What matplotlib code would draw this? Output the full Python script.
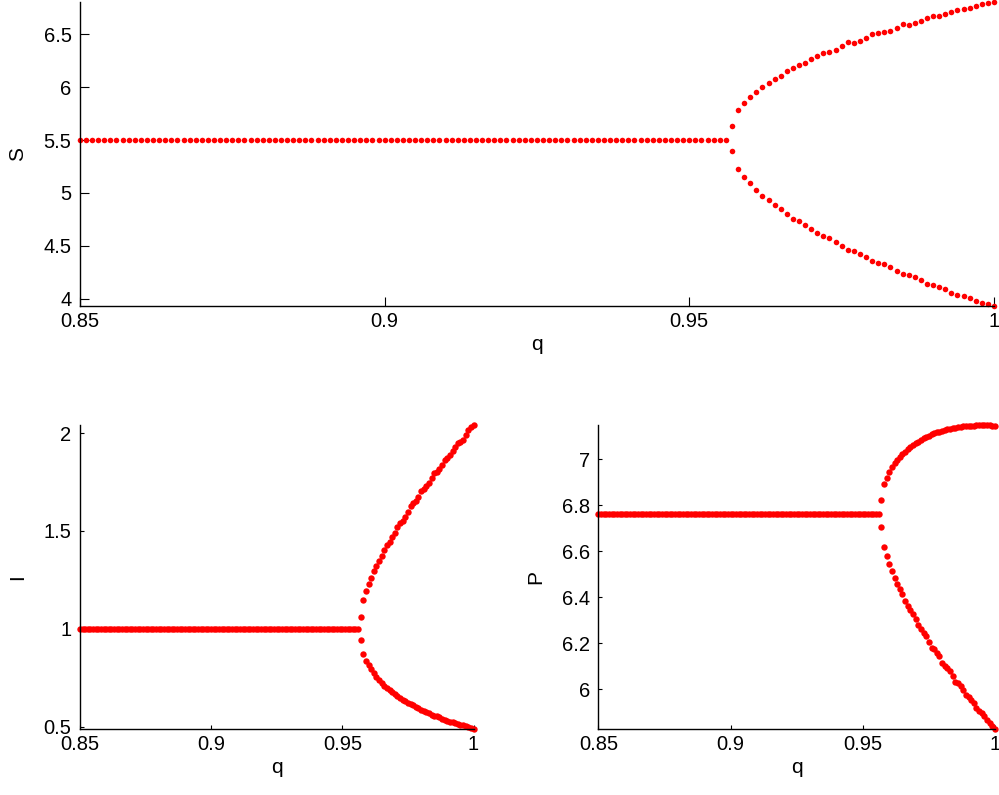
import numpy as np
import matplotlib
matplotlib.use("Agg")
import matplotlib.pyplot as plt

plt.rcParams["font.family"] = ["Liberation Sans", "DejaVu Sans"]

# parameter grid (step 0.001): single steady state up to 0.956, two branches from 0.957
q_flat = np.round(np.arange(0.850, 0.9565, 0.001), 3)
q_branch = np.round(np.arange(0.957, 1.0005, 0.001), 3)

S_flat = 5.5
S_upper = [5.629, 5.783, 5.852, 5.909, 5.959, 6.006, 6.044, 6.079, 6.110, 6.151,
           6.186, 6.208, 6.233, 6.264, 6.296, 6.324, 6.330, 6.356, 6.387, 6.425,
           6.418, 6.440, 6.465, 6.500, 6.516, 6.519, 6.535, 6.560, 6.601, 6.588,
           6.604, 6.629, 6.657, 6.670, 6.673, 6.689, 6.711, 6.733, 6.736, 6.748,
           6.771, 6.786, 6.792, 6.802]
S_lower = [5.393, 5.226, 5.154, 5.091, 5.031, 4.975, 4.931, 4.890, 4.846, 4.802,
           4.758, 4.733, 4.701, 4.664, 4.619, 4.591, 4.575, 4.541, 4.503, 4.462,
           4.453, 4.428, 4.396, 4.358, 4.340, 4.330, 4.305, 4.264, 4.230, 4.226,
           4.208, 4.179, 4.142, 4.126, 4.116, 4.091, 4.057, 4.035, 4.025, 4.003,
           3.981, 3.956, 3.950, 3.931]

I_flat = 1.0
I_upper = [1.061, 1.148, 1.193, 1.227, 1.262, 1.295, 1.322, 1.346, 1.373, 1.401,
           1.428, 1.445, 1.467, 1.491, 1.520, 1.541, 1.551, 1.572, 1.598, 1.626,
           1.643, 1.651, 1.674, 1.706, 1.716, 1.728, 1.747, 1.771, 1.798, 1.803,
           1.817, 1.839, 1.864, 1.873, 1.890, 1.907, 1.927, 1.950, 1.955, 1.967,
           1.992, 2.018, 2.032, 2.040]
I_lower = [0.942, 0.871, 0.836, 0.816, 0.794, 0.773, 0.753, 0.738, 0.722, 0.708,
           0.697, 0.688, 0.679, 0.668, 0.656, 0.647, 0.638, 0.630, 0.620, 0.614,
           0.611, 0.601, 0.594, 0.587, 0.581, 0.577, 0.569, 0.562, 0.557, 0.553,
           0.548, 0.541, 0.536, 0.531, 0.526, 0.523, 0.518, 0.514, 0.511, 0.507,
           0.502, 0.499, 0.495, 0.488]

P_flat = 6.764
P_upper = [6.822, 6.891, 6.920, 6.943, 6.967, 6.986, 6.999, 7.010, 7.022, 7.033,
           7.043, 7.054, 7.062, 7.070, 7.077, 7.086, 7.091, 7.097, 7.103, 7.109,
           7.113, 7.117, 7.120, 7.123, 7.126, 7.130, 7.133, 7.135, 7.138, 7.140,
           7.142, 7.143, 7.145, 7.145, 7.146, 7.146, 7.148, 7.148, 7.148, 7.148,
           7.148, 7.148, 7.146, 7.145]
P_lower = [6.706, 6.620, 6.581, 6.546, 6.514, 6.484, 6.459, 6.436, 6.413, 6.386,
           6.361, 6.345, 6.326, 6.304, 6.278, 6.261, 6.245, 6.230, 6.206, 6.181,
           6.173, 6.158, 6.143, 6.114, 6.103, 6.094, 6.080, 6.057, 6.032, 6.027,
           6.013, 5.996, 5.974, 5.967, 5.955, 5.942, 5.920, 5.906, 5.897, 5.883,
           5.865, 5.851, 5.839, 5.827]

x_ticks = [0.85, 0.9, 0.95, 1.0]
x_ticklabels = ["0.85", "0.9", "0.95", "1"]


def draw_panel(ax, flat, upper, lower, ylabel, yticks, yticklabels, ticklen, ms):
    flat_vals = np.full(len(q_flat), flat)
    for x, y in [(q_flat, flat_vals), (q_branch, upper), (q_branch, lower)]:
        ax.plot(x, y, "o", color="red", ms=ms, mec="none", clip_on=False)
    allv = np.concatenate([flat_vals, upper, lower])
    ax.set_xlim(0.85, 1.0)
    ax.set_ylim(allv.min(), allv.max())
    ax.set_xticks(x_ticks)
    ax.set_xticklabels(x_ticklabels)
    ax.set_yticks(yticks)
    ax.set_yticklabels(yticklabels)
    for s in ["top", "right"]:
        ax.spines[s].set_visible(False)
    for s in ["left", "bottom"]:
        ax.spines[s].set_linewidth(1.0)
    ax.tick_params(direction="in", length=ticklen, width=0.8, labelsize=14.5)
    ax.tick_params(axis="x", pad=4)
    ax.tick_params(axis="y", pad=6)
    ax.set_xlabel("q", fontsize=15, labelpad=3)
    ax.set_ylabel(ylabel, fontsize=15, labelpad=12)


fig = plt.figure(figsize=(9.99, 7.95), dpi=100)

ax_s = fig.add_axes([0.080, 0.615, 0.915, 0.382])
draw_panel(ax_s, S_flat, S_upper, S_lower, "S",
           [4, 4.5, 5, 5.5, 6, 6.5], ["4", "4.5", "5", "5.5", "6", "6.5"], 6.5, 4.0)

ax_i = fig.add_axes([0.080, 0.083, 0.394, 0.382])
draw_panel(ax_i, I_flat, I_upper, I_lower, "I",
           [0.5, 1, 1.5, 2], ["0.5", "1", "1.5", "2"], 3.0, 4.6)

ax_p = fig.add_axes([0.599, 0.083, 0.397, 0.382])
draw_panel(ax_p, P_flat, P_upper, P_lower, "P",
           [6, 6.2, 6.4, 6.6, 6.8, 7], ["6", "6.2", "6.4", "6.6", "6.8", "7"], 3.0, 4.6)

fig.savefig("out.png", dpi=100)
